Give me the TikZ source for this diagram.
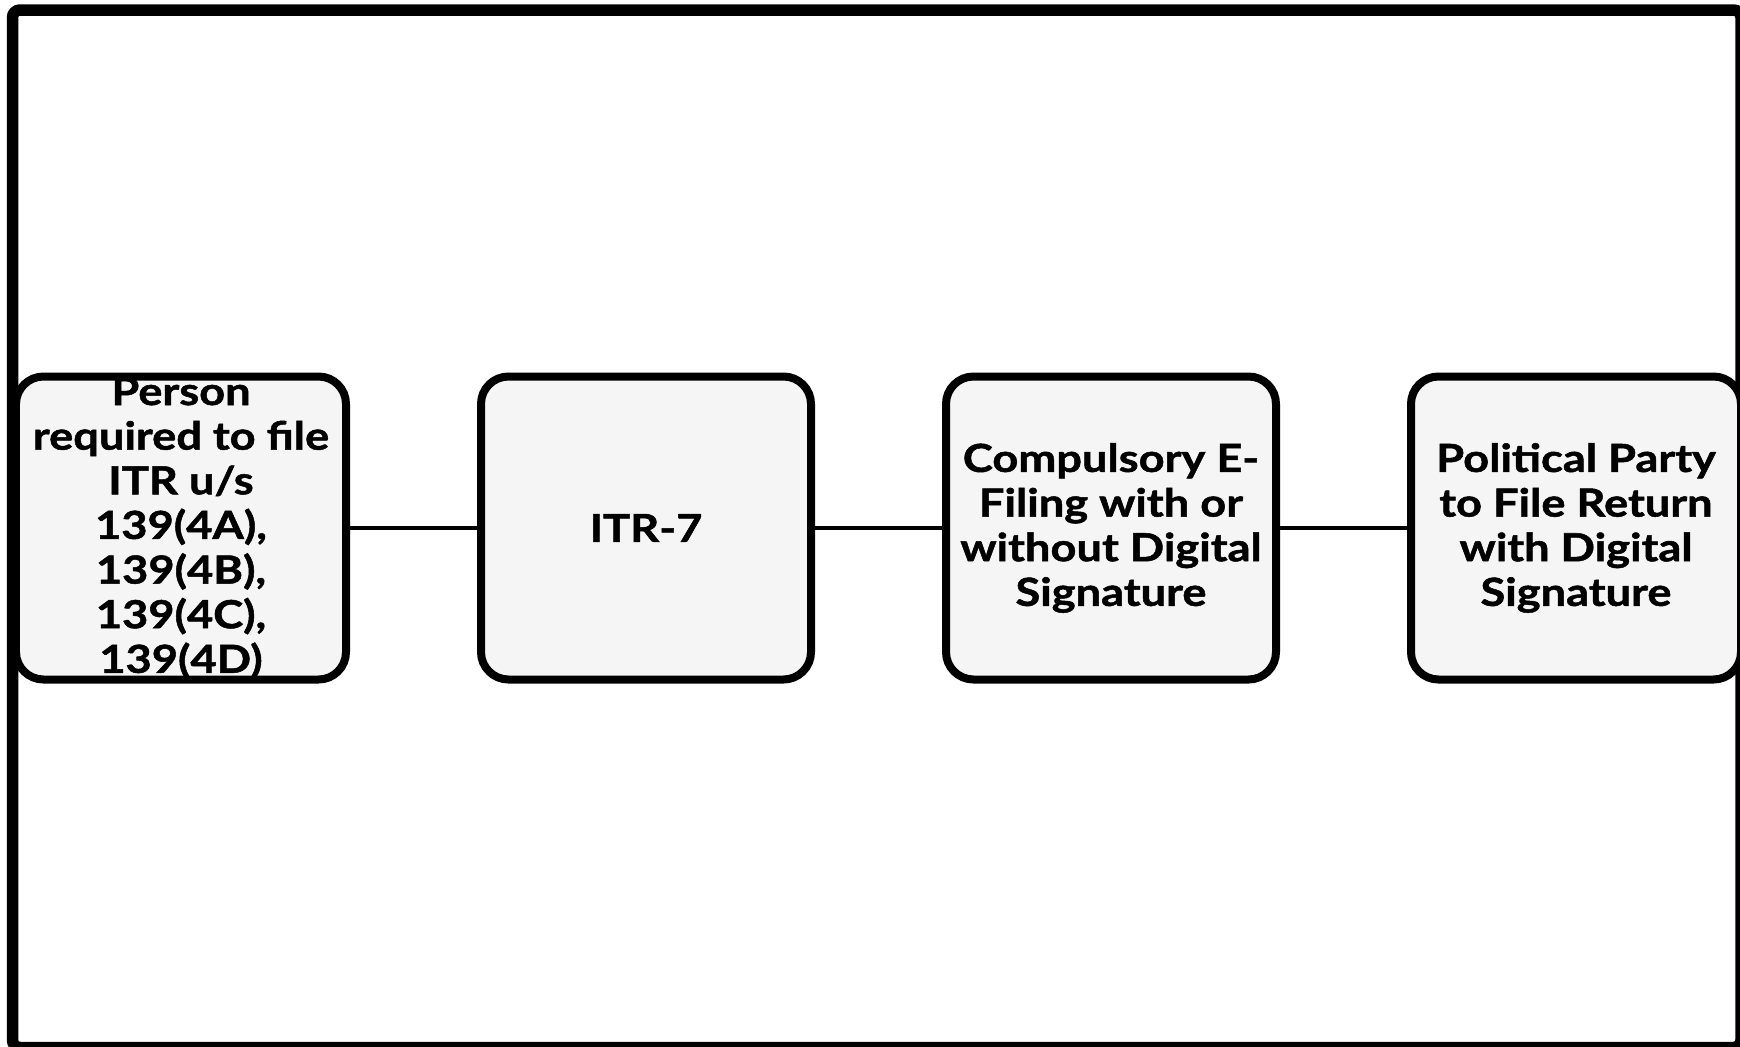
\documentclass[tikz,border=0pt]{standalone}
\usepackage{fontspec}
\setmainfont{Lato}[BoldFeatures={FakeStretch=1.17, FakeBold=1.3}]
\usepackage{tikz}
\usetikzlibrary{positioning}

\definecolor{boxfill}{HTML}{F5F5F5}

\begin{document}
\begin{tikzpicture}[node distance=2.54cm, auto]

\tikzstyle{process} = [rectangle, rounded corners=0.55cm, minimum width=6.6cm, minimum height=6.06cm, text centered, align=center, draw=black, line width=0.16cm, fill=boxfill, font=\fontsize{22}{25.4}\selectfont\bfseries]
\tikzstyle{line} = [line width=0.08cm]

\useasboundingbox (0,0) rectangle (34.8,-20.92);
\draw [line width=0.23cm, rounded corners=0.15cm] (0.25,-0.2) rectangle (34.82,-20.95);

\node (person) [process, inner ysep=-0.3cm] at (3.62,-10.56) {Person\\ required to file\\ ITR u/s\\ 139(4A),\\ 139(4B),\\ 139(4C),\\ 139(4D)};
\node (itr) [process, right=of person] {ITR-7};
\node (efile) [process, right=of itr] {Compulsory E-\\ Filing with or\\ without Digital\\ Signature};
\node (party) [process, right=of efile] {Political Party\\ to File Return\\ with Digital\\ Signature};

\draw [line] (person) -- (itr);
\draw [line] (itr) -- (efile);
\draw [line] (efile) -- (party);
\end{tikzpicture}
\end{document}
